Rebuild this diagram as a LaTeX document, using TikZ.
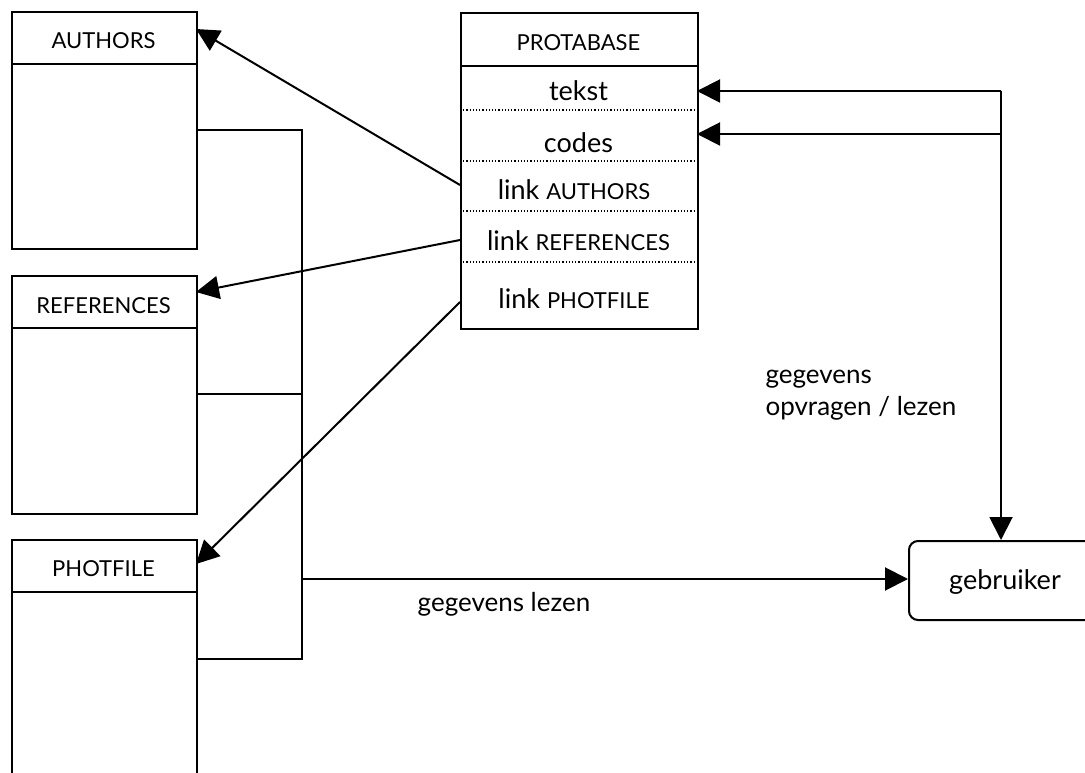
\documentclass[tikz,border=0pt]{standalone}
\usepackage{fontspec}
\setmainfont{Lato}
\usetikzlibrary{arrows.meta}
\tikzset{tablebox/.style={draw, line width=2pt, minimum width=185pt, minimum height=237pt, inner sep=0pt, anchor=north west},
title/.style={font=\fontsize{22}{26}\selectfont},
row/.style={font=\fontsize{27}{30}\selectfont},
lbl/.style={font=\fontsize{26}{32}\selectfont, align=left},
%filled arrow head
link/.style={line width=2pt, -{Triangle[length=23pt,width=23pt]}},
wire/.style={line width=2pt}}
\newcommand{\kap}[1]{{\fontsize{22}{26}\selectfont #1}}

\begin{document}
\begin{tikzpicture}[x=1pt,y=-1pt]
\useasboundingbox (0,0) rectangle (1085,773);
\clip (0,0) rectangle (1085,773);

% tables
\node[tablebox] (authors) at (11,11) {};
\node[tablebox, minimum height=238pt] (references) at (11,275) {};
\node[tablebox, minimum height=260pt] (photfile) at (11,539) {};
\draw[wire] (11,64) -- (196,64);
\draw[wire] (11,328) -- (196,328);
\draw[wire] (11,592) -- (196,592);
\node[title] (authorsT) at (103.5,41) {AUTHORS};
\node[title] (referencesT) at (103.5,306) {REFERENCES};
\node[title] (photfileT) at (103.5,569) {PHOTFILE};

% protabase
\node[tablebox, minimum width=237pt, minimum height=316pt] (prota) at (460,12) {};
\draw[wire] (460,66) -- (697,66);
\foreach \y in {110,161,211,262}
     \draw[line width=1.2pt, dotted] (460,\y) -- (697,\y);
\node[title] (protaT) at (578.5,43) {PROTABASE};
\node[row] (tekst) at (578.5,91) {tekst};
\node[row] (codes) at (578.5,143) {codes};
\node[row] (linkA) at (574,190) {link \kap{AUTHORS}};
\node[row] (linkR) at (578.5,241) {link \kap{REFERENCES}};
\node[row] (linkP) at (574,299) {link \kap{PHOTFILE}};

% user
\node[draw, line width=2pt, rounded corners=9pt, minimum width=186pt, minimum height=79pt, anchor=north west] (user) at (908,540) {};
\node[row] (userT) at (1005,582) {gebruiker};

% links
\draw[link] (460,185) -- (196,29);
\draw[link] (460,240) -- (196,292);
\draw[link] (460,302) -- (196,564);

% reading
\coordinate (bus) at (302,579);
\draw[wire] (196,130) -- (302,130) -- (302,659) -- (196,659);
\draw[wire] (196,394) -- (302,394);
\draw[link] (bus) -- (user.west |- bus);
\node[lbl] (lees) at (504,604) {gegevens lezen};

% query
\coordinate (q) at (1001,91);
\draw[wire] (q) -- (1001,134);
\draw[link] (q) -- (697,91);
\draw[link] (1001,134) -- (697,134);
\draw[link] (q) -- (q |- user.north);
\node[lbl, anchor=north west] (vraag) at (762,367) {gegevens\\opvragen / lezen};

\end{tikzpicture}
\end{document}
